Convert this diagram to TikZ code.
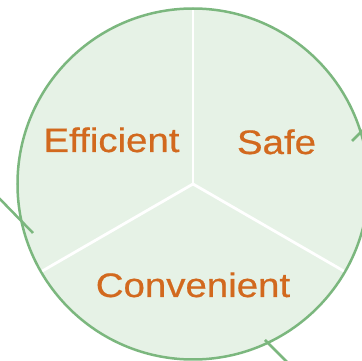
\documentclass[tikz,border=0pt]{standalone}
\usepackage{fontspec}
\setsansfont{Liberation Sans}[FakeStretch=1.13, FakeBold=0.6]
\usetikzlibrary{positioning}
\definecolor{cgreen}{HTML}{7BB77E}
\definecolor{cmint}{HTML}{E6F2E6}
\definecolor{corange}{HTML}{D2691E}
\tikzset{
  every picture/.style={font=\sffamily, line width=2.5pt},
  rim/.style={draw=cgreen, fill=cmint},
  spoke/.style={draw=white, line width=2.8pt},
  tick/.style={draw=cgreen, line width=2.5pt},
  word/.style={font=\sffamily\fontsize{34}{40}\selectfont, text=corange, anchor=base, inner sep=0pt},
}

\begin{document}
\begin{tikzpicture}[x=1pt, y=1pt]
  \useasboundingbox (-193,-177) rectangle (169,184);
  % the wheel and its three sectors
  \coordinate (hub) at (0,0);
  \draw[rim] (hub) circle (175.5);
  \foreach \a in {90,210,330}
    \draw[spoke] (hub) -- (\a:174);
  \node[word] (eff) at (-81.5,32) {Efficient};
  \node[word] (safe) at (83.5,30) {Safe};
  \node[word] (conv) at (0,-113) {Convenient};
  % arrow stubs crossing the rim
  \coordinate (w1) at (-196,-12);
  \coordinate (w2) at (-160,-49);
  \coordinate (e1) at (159,43);
  \coordinate (e2) at (178,62);
  \coordinate (s1) at (72,-156);
  \coordinate (s2) at (96,-180);
  \draw[tick] (w1) -- (w2);
  \draw[tick] (e1) -- (e2);
  \draw[tick] (s1) -- (s2);
\end{tikzpicture}
\end{document}
